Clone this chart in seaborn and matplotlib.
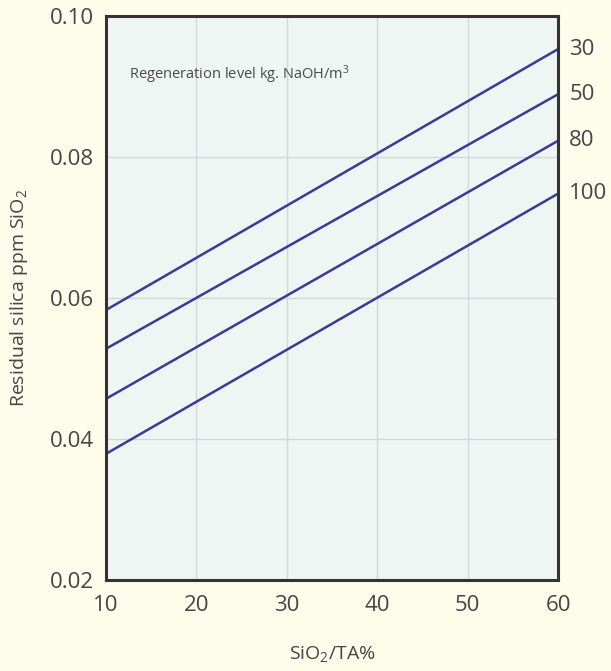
import matplotlib
matplotlib.use("Agg")
import matplotlib.pyplot as plt
import seaborn as sns
import pandas as pd

levels = ["30", "50", "80", "100"]
x_vals = [10, 60]
start_vals = [0.0583, 0.0528, 0.0457, 0.0379]
end_vals = [0.0953, 0.0889, 0.0823, 0.0748]
x_ticks = [10, 20, 30, 40, 50, 60]
y_ticks = [0.02, 0.04, 0.06, 0.08, 0.10]

rows = []
for lv, s, e in zip(levels, start_vals, end_vals):
    rows.append({"level": lv, "x": x_vals[0], "y": s})
    rows.append({"level": lv, "x": x_vals[1], "y": e})
df = pd.DataFrame(rows)

sns.set_theme(style="white")
plt.rcParams["font.family"] = ["Open Sans", "DejaVu Sans"]
plt.rcParams["mathtext.fontset"] = "custom"
plt.rcParams["mathtext.rm"] = "Open Sans"
plt.rcParams["mathtext.default"] = "regular"

bg = "#FEFDEB"
face = "#EEF5F2"
line_c = "#3A3A98"
text_c = "#454545"

fig = plt.figure(figsize=(6.11, 6.71), dpi=100, facecolor=bg)
ax = fig.add_axes([0.1735, 0.1356, 0.9133 - 0.1735, 0.9762 - 0.1356])
ax.set_facecolor(face)

sns.lineplot(data=df, x="x", y="y", hue="level", hue_order=levels,
             palette=[line_c] * len(levels), linewidth=1.8, legend=False, ax=ax)

ax.set_xlim(10, 60)
ax.set_ylim(0.02, 0.10)
ax.set_xticks(x_ticks)
ax.set_yticks(y_ticks)
ax.set_xticklabels([str(t) for t in x_ticks])
ax.set_yticklabels([f"{t:.2f}" for t in y_ticks])
ax.grid(True, color="#D3D7DA", linewidth=1.0)
ax.set_axisbelow(True)
for sp in ax.spines.values():
    sp.set_color("#333333")
    sp.set_linewidth(2.2)
ax.tick_params(axis="both", length=0, labelsize=16, colors=text_c)
ax.tick_params(axis="x", pad=11)
ax.tick_params(axis="y", pad=9)

ax.set_xlabel("SiO$_2$/TA%", fontsize=14, color=text_c, labelpad=20)
ax.set_ylabel("Residual silica ppm SiO$_2$", fontsize=14, color=text_c, labelpad=14)

ax.text(0.05, 0.895, "Regeneration level kg. NaOH/m$^3$", transform=ax.transAxes,
        fontsize=10.5, color="#4A4A4A", ha="left", va="center")

for lv, e in zip(levels, end_vals):
    ax.annotate(lv, xy=(60, e), xytext=(8, 0), textcoords="offset points",
                fontsize=16, color=text_c, ha="left", va="center", annotation_clip=False)

fig.savefig("out.png", dpi=100, facecolor=bg)
